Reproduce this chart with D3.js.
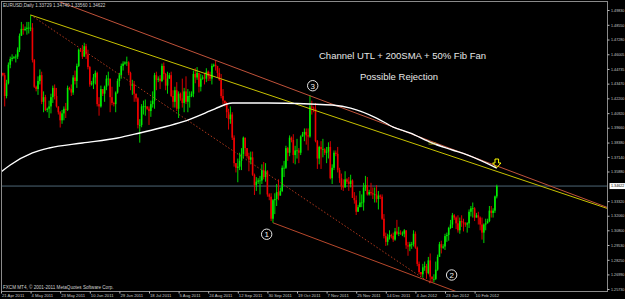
<!DOCTYPE html>
<html>
<head>
<meta charset="utf-8">
<script src="https://d3js.org/d3.v7.min.js"></script>
<style>
  html, body { margin: 0; padding: 0; background: #000; overflow: hidden; }
  svg { display: block; }
</style>
</head>
<body>
<svg id="chart" width="625" height="299"></svg>
<script>
// EURUSD Daily, one bar per index (Sunday bars included)
const firstOpen = 1.4460;
const closes = [
  1.4440,1.4420,1.4240,1.4350,1.4510,1.4560,1.4570,
  1.4575,1.4580,1.4640,1.4760,1.4820,1.4810,
  1.4820,1.4830,1.4830,1.4830,1.4550,1.4320,
  1.4300,1.4370,1.4420,1.4190,1.4230,1.4120,
  1.4130,1.4150,1.4230,1.4310,1.4240,1.4150,
  1.4100,1.4030,1.4090,1.4130,1.4120,1.4310,
  1.4300,1.4270,1.4400,1.4370,1.4500,1.4640,
  1.4630,1.4580,1.4670,1.4600,1.4490,1.4340,
  1.4350,1.4400,1.4440,1.4170,1.4150,1.4300,
  1.4260,1.4320,1.4390,1.4390,1.4230,1.4180,
  1.4170,1.4270,1.4370,1.4420,1.4500,1.4520,
  1.4530,1.4530,1.4440,1.4330,1.4340,1.4260,
  1.4220,1.3990,1.3990,1.4150,1.4150,1.4150,
  1.4130,1.4110,1.4170,1.4200,1.4420,1.4380,
  1.4390,1.4370,1.4500,1.4430,1.4330,1.4390,
  1.4420,1.4240,1.4190,1.4290,1.4130,1.4260,
  1.4220,1.4180,1.4280,1.4190,1.4240,1.4240,
  1.4260,1.4430,1.4400,1.4440,1.4320,1.4390,
  1.4400,1.4390,1.4450,1.4410,1.4390,1.4500,
  1.4510,1.4500,1.4440,1.4380,1.4240,1.4200,
  1.4180,1.4100,1.4040,1.4080,1.3880,1.3660,
  1.3620,1.3630,1.3680,1.3740,1.3880,1.3790,
  1.3720,1.3690,1.3710,1.3560,1.3470,1.3500,
  1.3510,1.3510,1.3600,1.3540,1.3590,1.3390,
  1.3370,1.3180,1.3340,1.3350,1.3410,1.3380,
  1.3420,1.3620,1.3620,1.3790,1.3750,1.3880,
  1.3860,1.3730,1.3770,1.3770,1.3750,1.3890,
  1.3910,1.3930,1.3900,1.3890,1.4150,1.4140,
  1.4130,1.3850,1.3700,1.3800,1.3780,1.3780,
  1.3750,1.3760,1.3800,1.3530,1.3620,1.3750,
  1.3740,1.3600,1.3530,1.3460,1.3450,1.3520,
  1.3500,1.3480,1.3510,1.3360,1.3340,1.3240,
  1.3280,1.3320,1.3320,1.3450,1.3470,1.3390,
  1.3410,1.3400,1.3390,1.3390,1.3350,1.3380,
  1.3370,1.3180,1.3030,1.2980,1.3020,1.3040,
  1.3030,1.3000,1.3070,1.3050,1.3060,1.3050,
  1.3050,1.3080,1.2950,1.2940,1.2960,
  1.2960,1.3050,1.2930,1.2790,1.2720,
  1.2700,1.2760,1.2770,1.2710,1.2820,1.2680,
  1.2660,1.2660,1.2740,1.2850,1.2960,1.2930,
  1.2940,1.3030,1.3040,1.3100,1.3130,1.3210,
  1.3190,1.3140,1.3080,1.3160,1.3150,1.3140,
  1.3130,1.3140,1.3240,1.3270,1.3270,1.3190,
  1.3210,1.3190,1.3130,1.3060,1.3130,1.3140,
  1.3160,1.3250,1.3230,1.3250,1.33729,1.34622
];
const highs = [
  1.4490,1.4440,1.4440,1.4380,1.4530,1.4580,1.4600,
  1.4585,1.4600,1.4660,1.4780,1.4880,1.4860,
  1.4840,1.4880,1.4880,1.4940,1.4870,1.4560,
  1.4330,1.4410,1.4470,1.4450,1.4280,1.4250,
  1.4140,1.4200,1.4260,1.4330,1.4340,1.4310,
  1.4150,1.4110,1.4120,1.4150,1.4180,1.4330,
  1.4320,1.4340,1.4420,1.4460,1.4520,1.4650,
  1.4650,1.4680,1.4700,1.4690,1.4640,1.4500,
  1.4370,1.4430,1.4460,1.4450,1.4230,1.4330,
  1.4300,1.4330,1.4420,1.4450,1.4390,1.4320,
  1.4190,1.4280,1.4390,1.4440,1.4520,1.4540,
  1.4540,1.4580,1.4540,1.4450,1.4380,1.4370,
  1.4250,1.4230,1.4040,1.4170,1.4200,1.4210,
  1.4150,1.4150,1.4200,1.4280,1.4440,1.4450,
  1.4410,1.4420,1.4520,1.4530,1.4440,1.4450,
  1.4440,1.4450,1.4290,1.4320,1.4360,1.4280,
  1.4270,1.4390,1.4310,1.4410,1.4300,1.4280,
  1.4280,1.4460,1.4480,1.4490,1.4440,1.4430,
  1.4420,1.4440,1.4480,1.4460,1.4450,1.4520,
  1.4520,1.4548,1.4500,1.4480,1.4430,1.4300,
  1.4200,1.4190,1.4130,1.4150,1.4100,1.3900,
  1.3650,1.3700,1.3750,1.3790,1.3890,1.3880,
  1.3770,1.3750,1.3760,1.3760,1.3570,1.3540,
  1.3530,1.3550,1.3650,1.3670,1.3660,1.3600,
  1.3400,1.3400,1.3350,1.3400,1.3480,1.3520,
  1.3450,1.3640,1.3680,1.3810,1.3800,1.3900,
  1.3890,1.3910,1.3810,1.3870,1.3790,1.3900,
  1.3930,1.3960,1.3960,1.3960,1.4248,1.4200,
  1.4150,1.4180,1.3860,1.3810,1.3850,1.3870,
  1.3790,1.3800,1.3840,1.3850,1.3650,1.3770,
  1.3770,1.3800,1.3620,1.3570,1.3520,1.3590,
  1.3530,1.3540,1.3560,1.3520,1.3410,1.3380,
  1.3300,1.3420,1.3390,1.3490,1.3550,1.3540,
  1.3430,1.3490,1.3450,1.3450,1.3470,1.3420,
  1.3390,1.3390,1.3220,1.3060,1.3050,1.3080,
  1.3050,1.3060,1.3100,1.3170,1.3110,1.3080,
  1.3070,1.3090,1.3080,1.2980,1.2980,
  1.2980,1.3080,1.3070,1.2940,1.2810,
  1.2720,1.2790,1.2810,1.2790,1.2850,1.2880,
  1.2680,1.2700,1.2810,1.2870,1.2980,1.2990,
  1.2960,1.3050,1.3060,1.3110,1.3170,1.3230,
  1.3220,1.3200,1.3210,1.3190,1.3210,1.3180,
  1.3150,1.3150,1.3260,1.3290,1.3320,1.3280,
  1.3230,1.3240,1.3200,1.3190,1.3140,1.3180,
  1.3180,1.3290,1.3290,1.3270,1.3380,1.34740
];
const lows = [
  1.4400,1.4410,1.4150,1.4220,1.4340,1.4480,1.4540,
  1.4560,1.4530,1.4560,1.4620,1.4760,1.4770,
  1.4800,1.4770,1.4780,1.4800,1.4530,1.4310,
  1.4280,1.4250,1.4340,1.4170,1.4100,1.4110,
  1.4100,1.4050,1.4090,1.4180,1.4210,1.4140,
  1.4080,1.3968,1.4000,1.4030,1.4050,1.4110,
  1.4290,1.4240,1.4250,1.4340,1.4310,1.4490,
  1.4620,1.4560,1.4580,1.4560,1.4470,1.4320,
  1.4330,1.4300,1.4340,1.4150,1.4070,1.4140,
  1.4240,1.4190,1.4290,1.4330,1.4100,1.4160,
  1.4150,1.4100,1.4260,1.4320,1.4390,1.4460,
  1.4510,1.4500,1.4420,1.4290,1.4250,1.4190,
  1.4190,1.3960,1.3837,1.3970,1.4080,1.4070,
  1.4120,1.3990,1.4060,1.4140,1.4130,1.4290,
  1.4360,1.4300,1.4360,1.4380,1.4290,1.4260,
  1.4390,1.4230,1.4140,1.4140,1.4110,1.4050,
  1.4200,1.4140,1.4100,1.4170,1.4100,1.4140,
  1.4230,1.4230,1.4350,1.4380,1.4270,1.4280,
  1.4380,1.4340,1.4360,1.4370,1.4370,1.4340,
  1.4490,1.4460,1.4400,1.4370,1.4220,1.4170,
  1.4150,1.4050,1.3950,1.4000,1.3860,1.3630,
  1.3580,1.3495,1.3600,1.3600,1.3700,1.3720,
  1.3700,1.3590,1.3650,1.3550,1.3385,1.3420,
  1.3480,1.3390,1.3480,1.3520,1.3500,1.3370,
  1.3340,1.3160,1.3145,1.3220,1.3290,1.3340,
  1.3380,1.3410,1.3540,1.3610,1.3680,1.3720,
  1.3840,1.3660,1.3650,1.3700,1.3660,1.3730,
  1.3890,1.3850,1.3820,1.3770,1.3880,1.4080,
  1.4100,1.3840,1.3610,1.3650,1.3610,1.3710,
  1.3730,1.3660,1.3700,1.3520,1.3480,1.3600,
  1.3720,1.3580,1.3490,1.3430,1.3420,1.3450,
  1.3480,1.3420,1.3450,1.3360,1.3310,1.3212,
  1.3250,1.3290,1.3280,1.3250,1.3420,1.3380,
  1.3380,1.3380,1.3350,1.3320,1.3320,1.3260,
  1.3350,1.3170,1.3010,1.2945,1.2950,1.3000,
  1.3010,1.2980,1.2990,1.3040,1.3030,1.3040,
  1.3030,1.3020,1.2920,1.2860,1.2900,
  1.2920,1.2940,1.2920,1.2770,1.2700,
  1.2680,1.2670,1.2730,1.2660,1.2700,1.2624,
  1.2630,1.2630,1.2650,1.2730,1.2850,1.2880,
  1.2920,1.2910,1.2980,1.2990,1.3090,1.3100,
  1.3170,1.3090,1.3060,1.3050,1.3110,1.3070,
  1.3110,1.3060,1.3100,1.3200,1.3190,1.3160,
  1.3190,1.3130,1.3080,1.3000,1.2970,1.3080,
  1.3140,1.3150,1.3190,1.3190,1.3230,1.33560
];

// 200 SMA (bar index, value)
const smaIdx = [0,5,17,26,44,63,75,86,98,113,118,122,125,144,167,179,189,203,212,221,233,244,252,268];
const smaVal = [1.3584,1.3644,1.3748,1.3791,1.3834,1.3877,1.3921,1.3964,1.4016,1.4111,1.4145,1.4171,1.4180,1.4180,1.4171,1.4162,1.4136,1.4050,1.3972,1.3921,1.3834,1.3774,1.3731,1.3618];

// price scale labels and date labels (one every 16 bars)
const priceTicks = [1.4983,1.4855,1.4728,1.46005,1.44735,1.4347,1.422,1.4092,1.3966,1.3838,1.3714,1.3588,1.3332,1.3206,1.308,1.2953,1.2825,1.2699,1.2573];
const dateLabels = ['21 Apr 2011','4 May 2011','23 May 2011','10 Jun 2011','29 Jun 2011','18 Jul 2011','5 Aug 2011','24 Aug 2011','12 Sep 2011','30 Sep 2011','19 Oct 2011','7 Nov 2011','25 Nov 2011','14 Dec 2011','4 Jan 2012','23 Jan 2012','10 Feb 2012'];
const lastPrice = 1.34622;

// drawing objects (bar index, price)
const upperChannel = [[116, 1.4548], [167, 1.4242]];
const lowerChannel = [[147, 1.3145], [232, 1.2635]];
const fanStart = [16, 1.4940];
const fanEnd = [232, 1.2624];
const circled = [['1', 143.6, 1.3046], ['2', 243.6, 1.2694], ['3', 168.5, 1.4329]];

const W = 625, H = 299;
const plotRight = 607.5, plotBottom = 291.5;
const font = 'Liberation Sans, Arial, sans-serif';
const svg = d3.select('#chart');
svg.append('rect').attr('width', W).attr('height', H).attr('fill', '#000');

const x = d3.scaleLinear().domain([0, 328]).range([1, 607.8]);
const y = d3.scaleLinear().domain([1.2573, 1.4983]).range([289, 10]);

svg.append('clipPath').attr('id', 'plot')
  .append('rect').attr('x', 1.5).attr('y', 1.5).attr('width', plotRight - 1.5).attr('height', plotBottom - 1.5);

const g = svg.append('g').attr('clip-path', 'url(#plot)');

// current price line
g.append('line')
  .attr('x1', 1).attr('x2', plotRight)
  .attr('y1', y(lastPrice)).attr('y2', y(lastPrice))
  .attr('stroke', '#4e6777').attr('stroke-width', 1);

// candles
const bars = closes.map((c, i) => {
  const o = i === 0 ? firstOpen : closes[i - 1];
  return { i, o, c, h: Math.max(highs[i], o, c), l: Math.min(lows[i], o, c) };
});
const colour = d => d.c >= d.o ? '#00ee00' : '#f00000';

g.append('g').selectAll('line')
  .data(bars)
  .join('line')
  .attr('x1', d => x(d.i)).attr('x2', d => x(d.i))
  .attr('y1', d => y(d.h)).attr('y2', d => y(d.l))
  .attr('stroke', colour).attr('stroke-width', 0.9);

g.append('g').selectAll('rect')
  .data(bars)
  .join('rect')
  .attr('x', d => x(d.i) - 0.8)
  .attr('width', 1.6)
  .attr('y', d => y(Math.max(d.o, d.c)))
  .attr('height', d => Math.max(0.7, Math.abs(y(d.o) - y(d.c))))
  .attr('fill', colour);

// helpers for rays
const along = (p, q, i) => p[1] + (q[1] - p[1]) * (i - p[0]) / (q[0] - p[0]);
const lineGen = d3.line().x(d => x(d[0])).y(d => y(d[1]));

// fib fan baseline (dotted) and 50% line
g.append('path')
  .attr('d', lineGen([fanStart, fanEnd]))
  .attr('fill', 'none').attr('stroke', '#b0381c').attr('stroke-width', 1)
  .attr('stroke-dasharray', '1.5,2');

const fanMid = [fanEnd[0], (fanStart[1] + fanEnd[1]) / 2];
g.append('path')
  .attr('d', lineGen([fanStart, [340, along(fanStart, fanMid, 340)]]))
  .attr('fill', 'none').attr('stroke', '#c8c200').attr('stroke-width', 1);

// channel lines
g.append('path')
  .attr('d', lineGen([[-20, along(upperChannel[0], upperChannel[1], -20)], [340, along(upperChannel[0], upperChannel[1], 340)]]))
  .attr('fill', 'none').attr('stroke', '#c0523a').attr('stroke-width', 1);
g.append('path')
  .attr('d', lineGen([lowerChannel[0], [340, along(lowerChannel[0], lowerChannel[1], 340)]]))
  .attr('fill', 'none').attr('stroke', '#b8482c').attr('stroke-width', 1);

// 200 SMA
g.append('path')
  .datum(smaIdx.map((d, k) => [d, smaVal[k]]))
  .attr('d', d3.line().x(d => x(d[0])).y(d => y(d[1])).curve(d3.curveMonotoneX))
  .attr('fill', 'none').attr('stroke', '#ffffff').attr('stroke-width', 1.4);

// fan level label
g.append('text')
  .attr('x', x(fanMid[0]) - 2).attr('y', y(fanMid[1]) - 4)
  .attr('font-family', font).attr('font-size', 4)
  .attr('fill', '#c8c200').text('50.0');

// yellow down arrow at the last bar
const ax = x(closes.length - 1), ay = y(smaVal[smaVal.length - 1]) - 9;
g.append('path')
  .attr('d', `M${ax - 1.8},${ay} h3.6 v4 h2.4 l-4.2,4.6 l-4.2,-4.6 h2.4 z`)
  .attr('fill', 'none').attr('stroke', '#ffff00').attr('stroke-width', 1);

// circled wave numbers
const cg = g.append('g').selectAll('g').data(circled).join('g')
  .attr('transform', d => `translate(${x(d[1])},${y(d[2])})`);
cg.append('circle').attr('r', 5.2).attr('fill', 'none').attr('stroke', '#e8e8e8').attr('stroke-width', 1);
cg.append('text').attr('text-anchor', 'middle').attr('dy', 2.8)
  .attr('font-family', font).attr('font-size', 8)
  .attr('fill', '#f0f0f0').text(d => d[0]);

// annotation text
const notes = svg.append('g')
  .attr('font-family', font).attr('font-size', 9.5).attr('fill', '#e6e6e6');
notes.append('text').attr('x', 319).attr('y', 58.5).text('Channel UTL + 200SMA + 50% Fib Fan');
notes.append('text').attr('x', 360).attr('y', 79.5).text('Possible Rejection');

// frame
svg.append('rect')
  .attr('x', 1.5).attr('y', 1.5).attr('width', plotRight - 1.5).attr('height', plotBottom - 1.5)
  .attr('fill', 'none').attr('stroke', '#8a8a8a').attr('stroke-width', 1);

// price axis
const yAxis = svg.append('g').attr('transform', `translate(${plotRight},0)`)
  .call(d3.axisRight(y).tickValues(priceTicks).tickFormat(d3.format('.5f')).tickSize(2).tickPadding(1.5));
yAxis.select('.domain').remove();
yAxis.selectAll('line').attr('stroke', '#bcbcbc');
yAxis.selectAll('text').attr('fill', '#c8c8c8').attr('font-size', 3.7)
  .attr('font-family', font);

// last price box
svg.append('rect').attr('x', 609.5).attr('y', y(lastPrice) - 3).attr('width', 15.5).attr('height', 6).attr('fill', '#ffffff');
svg.append('text').attr('x', 611).attr('y', y(lastPrice) + 1.3)
  .attr('font-family', font).attr('font-size', 3.7)
  .attr('fill', '#000').text(d3.format('.5f')(lastPrice));

// date axis
const xAxis = svg.append('g').attr('transform', `translate(0,${plotBottom})`)
  .call(d3.axisBottom(x).tickValues(dateLabels.map((d, k) => k * 16))
    .tickFormat((d, k) => dateLabels[k]).tickSize(2).tickPadding(1));
xAxis.select('.domain').remove();
xAxis.selectAll('line').attr('stroke', '#bcbcbc');
xAxis.selectAll('text').attr('fill', '#c8c8c8').attr('font-size', 4.2)
  .attr('font-family', font)
  .attr('text-anchor', 'start').attr('dx', 0.5);

// header and copyright
const ui = svg.append('g').attr('font-family', font)
  .attr('font-size', 4.6).attr('fill', '#d0d0d0');
ui.append('text').attr('x', 3).attr('y', 7).text('EURUSD,Daily  1.33729 1.34740 1.33560 1.34622');
ui.append('text').attr('x', 3).attr('y', 289).text('FXCM MT4, © 2001-2011 MetaQuotes Software Corp.');
</script>
</body>
</html>
